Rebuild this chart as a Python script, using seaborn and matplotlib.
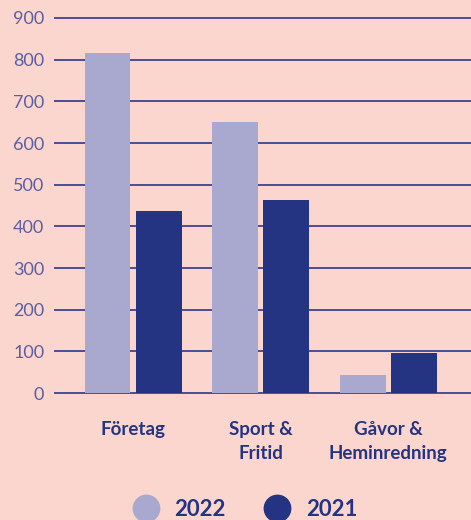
import pandas as pd
import matplotlib.pyplot as plt
import seaborn as sns
from matplotlib.lines import Line2D

kategorier = ['Företag', 'Sport &\nFritid', 'Gåvor &\nHeminredning']
ar_2022 = [816, 650, 43]
ar_2021 = [438, 464, 95]
ar = ['2022', '2021']

bakgrund = '#FAD6CE'
ljus = '#A9A9CF'
mork = '#243483'
linje = '#3B4390'

df = pd.DataFrame({
    'kategori': kategorier * 2,
    'år': [ar[0]] * 3 + [ar[1]] * 3,
    'värde': ar_2022 + ar_2021,
})

sns.set_style('white')
plt.rcParams['font.family'] = ['Lato', 'DejaVu Sans']

fig = plt.figure(figsize=(4.71, 5.20), dpi=100, facecolor=bakgrund)
ax = fig.add_axes([0.1146, 0.2402, 0.8854, 0.7292])
ax.set_facecolor(bakgrund)

sns.barplot(data=df, x='kategori', y='värde', hue='år', hue_order=ar,
            palette=[ljus, mork], width=0.8, gap=0.1, saturation=1,
            linewidth=0, edgecolor='none', ax=ax, legend=False)

ax.set_xlim(-0.62, 2.65)
ax.set_ylim(-5, 905)
ax.set_yticks(range(0, 901, 100))
ax.set_axisbelow(True)
ax.yaxis.grid(True, color=linje, linewidth=1.3)
ax.xaxis.grid(False)
for s in ax.spines.values():
    s.set_visible(False)

ax.set_xlabel('')
ax.set_ylabel('')
ax.tick_params(axis='y', length=0, pad=7, labelsize=13, labelcolor='#5B5FA0')
ax.tick_params(axis='x', length=0, pad=19, labelsize=13.5, labelcolor=mork)
for t in ax.get_xticklabels():
    t.set_fontweight('bold')
    t.set_linespacing(1.45)

handles = [Line2D([], [], marker='o', linestyle='', markersize=19,
                  markerfacecolor=c, markeredgecolor=c) for c in [ljus, mork]]
fig.legend(handles, ar, loc='center', bbox_to_anchor=(0.51, 0.02), ncol=2,
           frameon=False, labelcolor=mork, columnspacing=1.3,
           handletextpad=0.3, prop={'weight': 'bold', 'size': 16})

fig.savefig('out.png', dpi=100, facecolor=bakgrund)
